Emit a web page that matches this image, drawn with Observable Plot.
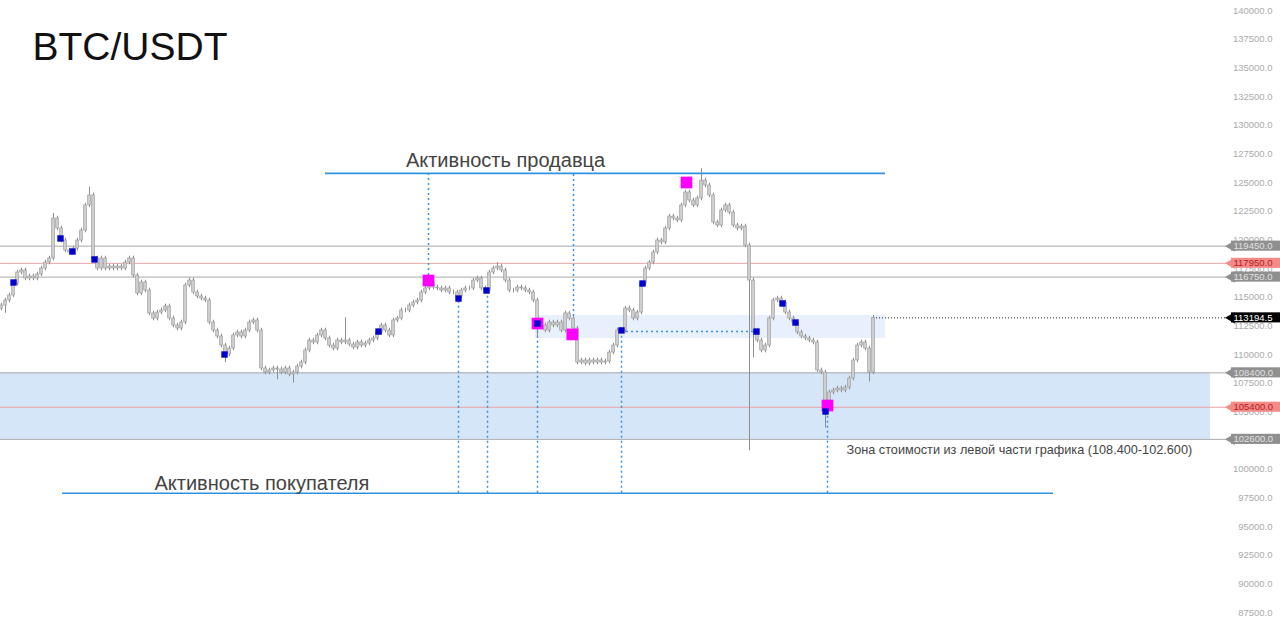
<!DOCTYPE html>
<html><head><meta charset="utf-8">
<script src="https://cdn.jsdelivr.net/npm/d3@7"></script>
<script src="https://cdn.jsdelivr.net/npm/@observablehq/plot@0.6"></script>
<style>body{margin:0;background:#fff;overflow:hidden}#chart svg{display:block}</style>
</head><body><div id="chart"></div>
<script>
// ---- data (prices in thousands of USDT) ----
const closesK = [
114.27,114.71,115.15,116.19,117.15,117.33,116.63,116.81,116.63,116.98,
117.50,118.02,118.37,121.86,120.99,119.94,119.07,118.90,119.24,119.94,
120.81,123.00,123.87,118.37,117.50,118.37,117.50,117.67,117.50,117.67,
117.50,118.02,118.37,116.89,115.32,116.28,115.58,113.58,113.14,113.66,
113.84,114.19,113.14,112.53,112.27,112.79,116.02,116.45,115.41,115.06,
114.88,114.71,112.79,112.09,111.57,110.78,110.00,110.52,111.66,111.92,
111.57,112.09,112.79,112.97,112.09,108.78,108.43,108.61,108.78,108.69,
108.43,108.78,108.26,108.43,108.95,109.30,110.35,111.22,111.05,111.66,
112.09,111.40,110.78,110.52,111.22,111.05,111.22,110.87,110.61,111.05,
110.78,110.96,111.22,111.40,111.92,112.53,112.09,111.66,112.97,113.14,
113.84,113.84,114.27,114.53,114.71,115.41,115.76,116.28,115.84,115.76,
115.58,115.76,115.41,115.41,115.06,115.58,115.76,115.76,116.45,116.63,
115.76,115.58,117.15,117.50,117.67,117.33,116.45,115.58,115.58,115.84,
115.76,115.58,115.41,114.71,112.79,112.53,112.09,112.79,112.53,112.79,
112.09,113.58,113.14,112.27,109.30,109.48,109.21,109.48,109.30,109.48,
109.30,109.39,110.17,110.78,112.09,112.09,114.01,113.84,113.14,113.66,
116.19,117.50,118.02,118.90,119.94,119.77,120.99,122.03,121.86,121.69,
123.00,124.13,123.43,123.00,123.61,125.17,124.74,123.87,121.51,121.25,
122.56,123.00,122.38,121.25,120.99,121.16,119.51,116.45,112.09,111.22,
110.35,110.78,113.14,114.71,114.88,114.53,113.66,113.14,112.79,111.92,
111.57,111.40,111.22,111.05,108.61,108.43,105.29,106.69,106.86,107.03,
106.86,107.12,107.91,109.48,110.78,111.05,110.52,108.43,113.1945
];
const firstOpenK = 114.0;
const smallWickK = 0.2;
// [candle index, high, low] for visible long wicks
const wicks = [
  [1,null,113.6],[13,122.3,null],[22,124.6,null],[56,null,109.3],[69,null,107.8],
  [73,null,107.5],[86,113.2,null],[107,116.8,null],[124,118.0,null],[134,null,111.4],
  [175,126.2,null],[187,null,101.6],[188,null,109.7],[206,null,103.6],[217,null,107.6],[218,113.4,null]
];
const tickValues = [87500,90000,92500,95000,97500,100000,102500,105000,107500,110000,112500,115000,117500,120000,122500,125000,127500,130000,132500,135000,137500,140000];
const levelPrices = [119450,117950,116750,108400,105400,102600];
const levelKinds  = ["gray","red","gray","gray","red","gray"];
const currentPrice = 113194.5;
const valueZone = {low:102600, high:108400};
const smallZone = {low:111400, high:113400, from:133.5, to:221};
const sellerLevel = 125800, buyerLevel = 97900;
const magentaIdx = [106.75,134,142.7,171.25,206.5];
const magentaPx  = [116450,112700,111750,125000,105550];
const blueIdx = [3,14.75,17.75,23.25,55.75,94.25,114.25,121.25,134,155,160.25,188.75,195.25,198.5,206];
const bluePx  = [116280,120120,118980,118290,110000,112000,114880,115580,112700,112100,116190,112000,114450,112790,105030];
// dotted verticals: [index, from, to]
const dottedV = [
  [106.75,116450,sellerLevel],[143,112000,sellerLevel],
  [114.25,buyerLevel,114880],[121.5,buyerLevel,115580],[134,buyerLevel,112700],
  [155,buyerLevel,112100],[206.5,buyerLevel,105030]
];

// ---- build tables ----
const candles = closesK.map((c,i)=>{
  const o = i===0 ? firstOpenK : closesK[i-1];
  let h = Math.max(o,c)+smallWickK, l = Math.min(o,c)-smallWickK;
  const w = wicks.find(w=>w[0]===i);
  if (w){ if (w[1]!=null) h=w[1]; if (w[2]!=null) l=w[2]; }
  return {i, open:o*1000, close:c*1000, high:h*1000, low:l*1000};
});
const levels = levelPrices.map((p,k)=>({price:p, kind:levelKinds[k]}));
const tags = levels.map(d=>({price:d.price, kind:d.kind, label:d.price.toFixed(1)}))
  .concat([{price:currentPrice, kind:"black", label:currentPrice.toFixed(1)}]);
const tagFill = {gray:"#8f8f8f", red:"#f28a8a", black:"#000"};
const tagText = {gray:"#e2e2e2", red:"#b51d1d", black:"#fff"};
const magenta = magentaIdx.map((x,k)=>({x, y:magentaPx[k]}));
const blue = blueIdx.map((x,k)=>({x, y:bluePx[k]}));
const dots = dottedV.map(d=>({x:d[0], y1:d[1], y2:d[2]}));

const rightEdge = 307.25, tagLeft = 307.5, xMax = 319.75;
const font = "'Liberation Sans', Arial, sans-serif";

const chart = Plot.plot({
  width:1280, height:634, margin:0,
  style:{background:"#fff", fontFamily:font},
  x:{domain:[-0.25,xMax], axis:null},
  y:{domain:[85582,140872], axis:null},
  marks:[
    Plot.rect([valueZone],{x1:-0.25, x2:302.25, y1:"low", y2:"high", fill:"#d6e6f9"}),
    Plot.rect([smallZone],{x1:"from", x2:"to", y1:"low", y2:"high", fill:"#e7f0fc"}),
    Plot.ruleY(levels,{y:"price", x1:-0.25, x2:rightEdge, stroke:d=>d.kind==="red"?"#eaa3a3":"#a9a9a9", strokeWidth:1}),
    Plot.ruleY([sellerLevel],{x1:81, x2:221, stroke:"#2f91e2", strokeWidth:1.6}),
    Plot.ruleY([buyerLevel],{x1:15.25, x2:263, stroke:"#2f91e2", strokeWidth:1.6}),
    Plot.ruleX(dots,{x:"x", y1:"y1", y2:"y2", stroke:"#3d8fd8", strokeWidth:1.5, strokeDasharray:"2,3"}),
    Plot.ruleY([112010],{x1:155, x2:188.5, stroke:"#3d8fd8", strokeWidth:1.5, strokeDasharray:"2,3"}),
    Plot.ruleY([currentPrice],{x1:218, x2:rightEdge, stroke:"#222", strokeWidth:1, strokeDasharray:"1,2"}),
    Plot.ruleX(candles,{x:"i", y1:"low", y2:"high", stroke:"#8e8e8e", strokeWidth:1}),
    Plot.rect(candles,{x1:d=>d.i-0.32, x2:d=>d.i+0.32, y1:"open", y2:"close", fill:"#d2d2d2", stroke:"#979797", strokeWidth:0.7}),
    Plot.dot(magenta,{x:"x", y:"y", symbol:"square", r:6.6, fill:"#ff00ff"}),
    Plot.dot(blue,{x:"x", y:"y", symbol:"square", r:3.6, fill:"#0000d0"}),
    Plot.text(["Активность продавца"],{x:126, y:126900, fontSize:20, fill:"#444", textAnchor:"middle", lineAnchor:"middle"}),
    Plot.text(["Активность покупателя"],{x:65.1, y:98750, fontSize:20, fill:"#444", textAnchor:"middle", lineAnchor:"middle"}),
    Plot.text(["Зона стоимости из левой части графика (108.400-102.600)"],{x:211.25, y:101650, fontSize:12.7, fill:"#444", textAnchor:"start", lineAnchor:"middle"}),
    Plot.text(["BTC/USDT"],{frameAnchor:"top-left", dx:32, dy:47, fontSize:39, fill:"#111", textAnchor:"start", lineAnchor:"middle"}),
    Plot.text(tickValues,{y:d=>d, text:d=>d.toFixed(1), frameAnchor:"right", dx:-8, textAnchor:"end", lineAnchor:"middle", fill:"#ababab", fontSize:9.5}),
    Plot.dot(tags,{x:tagLeft, y:"price", symbol:"triangle", rotate:-90, r:4.2, fill:d=>tagFill[d.kind]}),
    Plot.rect(tags,{x1:tagLeft, x2:xMax, y1:d=>d.price-440, y2:d=>d.price+440, fill:d=>tagFill[d.kind]}),
    Plot.text(tags,{x:308, y:"price", text:"label", textAnchor:"start", lineAnchor:"middle", fontSize:9.5, fill:d=>tagText[d.kind]})
  ]
});
document.getElementById("chart").appendChild(chart);
</script></body></html>
